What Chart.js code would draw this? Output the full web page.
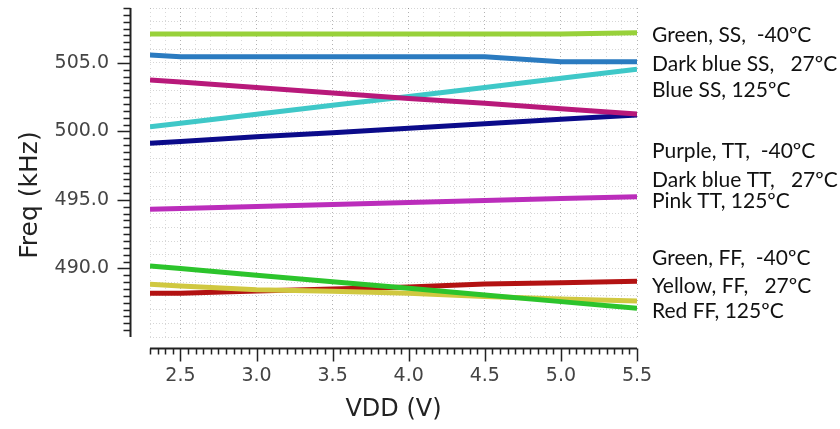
<!DOCTYPE html>
<html>
<head>
<meta charset="utf-8">
<script src="https://cdn.jsdelivr.net/npm/chart.js@4"></script>
<style>
  html, body { margin: 0; padding: 0; background: #fff; }
  #wrap { width: 840px; height: 429px; position: relative; }
</style>
</head>
<body>
<div id="wrap"><canvas id="chart"></canvas></div>
<script>
// VDD sweep (V) and frequency readings (kHz) per corner
const vdd = [2.3, 2.5, 3.0, 3.5, 4.0, 4.5, 5.0, 5.5];

const greenSS    = [507.1, 507.1, 507.1, 507.1, 507.1, 507.1, 507.1, 507.2];
const darkBlueSS = [505.57, 505.45, 505.45, 505.45, 505.45, 505.45, 505.08, 505.08];
const blueSS     = [500.34, 500.6, 501.25, 501.9, 502.55, 503.2, 503.88, 504.53];
const purpleTT   = [503.75, 503.6, 503.2, 502.8, 502.4, 502.05, 501.65, 501.27];
const darkBlueTT = [499.13, 499.26, 499.6, 499.9, 500.23, 500.55, 500.88, 501.2];
const pinkTT     = [494.32, 494.38, 494.52, 494.67, 494.81, 494.95, 495.1, 495.24];
const greenFF    = [490.18, 490.0, 489.5, 489.03, 488.55, 488.07, 487.58, 487.1];
const yellowFF   = [488.85, 488.72, 488.45, 488.33, 488.2, 487.95, 487.77, 487.62];
const redFF      = [488.19, 488.19, 488.35, 488.5, 488.65, 488.87, 488.96, 489.06];

const xTicks = [2.5, 3.0, 3.5, 4.0, 4.5, 5.0, 5.5];
const yTicks = [490, 495, 500, 505];

const legendLabels = [
  'Green, SS,  -40ºC', 'Dark blue SS,   27ºC', 'Blue SS, 125ºC',
  'Purple, TT,  -40ºC', 'Dark blue TT,   27ºC', 'Pink TT, 125ºC',
  'Green, FF,  -40ºC', 'Yellow, FF,   27ºC', 'Red FF, 125ºC'
];

// drawing order: first one ends up on top
const lines = [
  { label: legendLabels[0], values: greenSS,    color: '#98d13a' },
  { label: legendLabels[1], values: darkBlueSS, color: '#2b7bc0' },
  { label: legendLabels[3], values: purpleTT,   color: '#b8197a' },
  { label: legendLabels[2], values: blueSS,     color: '#3fc8c8' },
  { label: legendLabels[4], values: darkBlueTT, color: '#0b0b8a' },
  { label: legendLabels[5], values: pinkTT,     color: '#bb2dbb' },
  { label: legendLabels[6], values: greenFF,    color: '#2cc42c' },
  { label: legendLabels[7], values: yellowFF,   color: '#d0c840' },
  { label: legendLabels[8], values: redFF,      color: '#b31212' }
];

const legendBaselines = [42, 71, 97, 158, 187, 208, 265, 293, 318];

const axesPlugin = {
  id: 'offsetAxes',
  afterDraw(chart) {
    const ctx = chart.ctx;
    const xs = chart.scales.x, ys = chart.scales.y;
    const area = chart.chartArea;
    const ax = area.left - 19.5;
    const ay = area.bottom + 11.5;
    ctx.save();
    ctx.strokeStyle = '#222';
    ctx.lineWidth = 2;
    ctx.beginPath();
    ctx.moveTo(ax, ys.getPixelForValue(ys.max));
    ctx.lineTo(ax, ys.getPixelForValue(ys.min));
    ctx.moveTo(xs.getPixelForValue(xs.min), ay);
    ctx.lineTo(xs.getPixelForValue(xs.max), ay);
    ctx.stroke();

    ctx.lineWidth = 1.5;
    ctx.beginPath();
    for (let i = 971; i <= 1018; i++) {
      const v = i / 2;
      const py = Math.round(ys.getPixelForValue(v)) + 0.5;
      const len = yTicks.includes(v) ? 13 : 7;
      ctx.moveTo(ax, py);
      ctx.lineTo(ax - len, py);
    }
    for (let i = 46; i <= 110; i++) {
      const v = i / 20;
      const px = Math.round(xs.getPixelForValue(v)) + 0.5;
      const len = xTicks.some(t => Math.abs(t - v) < 1e-6) ? 13 : 6;
      ctx.moveTo(px, ay);
      ctx.lineTo(px, ay + len);
    }
    ctx.stroke();

    // y title
    ctx.fillStyle = '#222';
    ctx.font = '25px "DejaVu Sans"';
    ctx.textAlign = 'center';
    ctx.textBaseline = 'middle';
    ctx.translate(30, 195);
    ctx.rotate(-Math.PI / 2);
    ctx.fillText('Freq (kHz)', 0, 0);
    ctx.restore();

    // labels at right
    ctx.save();
    ctx.fillStyle = '#111';
    ctx.font = '21px Lato';
    ctx.textAlign = 'left';
    ctx.textBaseline = 'alphabetic';
    legendLabels.forEach((t, i) => ctx.fillText(t, 652, legendBaselines[i]));
    ctx.restore();
  }
};

new Chart(document.getElementById('chart'), {
  type: 'line',
  data: {
    datasets: lines.map(l => ({
      label: l.label,
      data: vdd.map((v, i) => ({ x: v, y: l.values[i] })),
      borderColor: l.color,
      backgroundColor: l.color,
      borderWidth: 5,
      pointRadius: 0,
      tension: 0,
      borderCapStyle: 'butt'
    }))
  },
  options: {
    responsive: true,
    maintainAspectRatio: false,
    animation: false,
    layout: { padding: { top: 8, right: 203, left: 0, bottom: 0 } },
    plugins: { legend: { display: false }, tooltip: { enabled: false } },
    scales: {
      x: {
        type: 'linear', min: 2.3, max: 5.5,
        afterBuildTicks: s => { s.ticks = xTicks.map(v => ({ value: v })); },
        afterFit: s => { s.height = 92; s.paddingLeft = 0; s.paddingRight = 0; },
        grid: { display: false, drawTicks: false },
        border: { display: false },
        ticks: {
          color: '#444', padding: 28,
          font: { family: 'DejaVu Sans', size: 19 },
          callback: v => v.toFixed(1)
        },
        title: {
          display: true, text: 'VDD (V)', color: '#222',
          font: { family: 'DejaVu Sans', size: 24 },
          padding: { top: 0, bottom: 5 }
        }
      },
      y: {
        type: 'linear', min: 485, max: 509,
        afterBuildTicks: s => { s.ticks = yTicks.map(v => ({ value: v })); },
        afterFit: s => { s.width = 150; s.paddingTop = 0; s.paddingBottom = 0; },
        grid: { display: false, drawTicks: false },
        border: { display: false },
        ticks: {
          color: '#444', padding: 41,
          font: { family: 'DejaVu Sans', size: 19 },
          callback: v => v.toFixed(1)
        }
      },
      xg: {
        type: 'linear', position: 'top', min: 2.3, max: 5.5,
        ticks: { display: false, stepSize: 0.1 },
        grid: {
          drawTicks: false, lineWidth: 1,
          color: c => {
            const v = c.tick.value * 2;
            return Math.abs(v - Math.round(v)) < 1e-6 ? 'rgba(0,0,0,0.30)' : 'rgba(0,0,0,0.15)';
          }
        },
        border: { display: false, dash: [1, 3] }
      },
      yg: {
        type: 'linear', position: 'right', min: 485, max: 509,
        ticks: { display: false, stepSize: 1 },
        grid: { drawTicks: false, lineWidth: 1, color: 'rgba(0,0,0,0.16)' },
        border: { display: false, dash: [1, 2] }
      }
    }
  },
  plugins: [axesPlugin]
});
</script>
</body>
</html>
